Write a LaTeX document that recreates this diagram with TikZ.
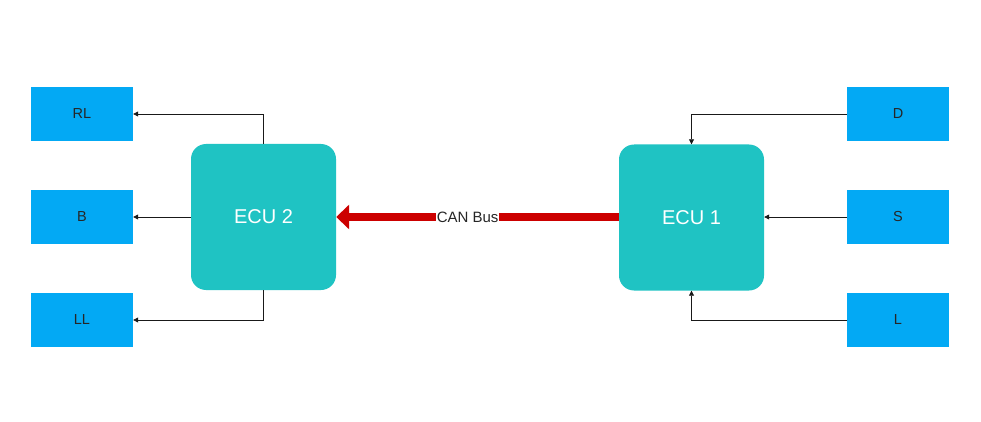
\documentclass[tikz,border=0pt]{standalone}
\usepackage{fontspec}
\setmainfont{Liberation Sans}
\usetikzlibrary{arrows.meta}
\definecolor{ecuteal}{HTML}{1FC3C3}
\definecolor{boxblue}{HTML}{03A9F4}
\definecolor{canred}{HTML}{CC0000}
\begin{document}
\begin{tikzpicture}[x=1pt,y=-1pt,
  iobox/.style={fill=boxblue,draw=none,minimum width=102pt,minimum height=54pt,inner sep=0pt,font=\fontsize{14.5}{17}\selectfont,text=black!85},
  ecubox/.style={fill=ecuteal,draw=none,rounded corners=15pt,minimum width=145pt,minimum height=146pt,inner sep=0pt,font=\fontsize{20}{24}\selectfont,text=white},
  sig/.style={draw=black!90,line width=0.8pt,-{Triangle[width=5pt,length=5pt]}},
  canbus/.style={draw=canred,line width=7.5pt,-{Triangle[width=24pt,length=13pt]}}]
\useasboundingbox (0,0) rectangle (981,422);
\node[iobox] (RL) at (82,114) {RL};
\node[iobox] (B) at (82,217) {B};
\node[iobox] (LL) at (82,320) {LL};
\node[iobox] (D) at (898,114) {D};
\node[iobox] (S) at (898,217) {S};
\node[iobox] (L) at (898,320) {L};
\node[ecubox] (E2) at (263.5,217) {ECU 2};
\node[ecubox] (E1) at (691.5,217.5) {ECU 1};
\draw[sig] (E2.north) |- (RL.east);
\draw[sig] (E2.west) -- (B.east);
\draw[sig] (E2.south) |- (LL.east);
\draw[sig] (D.west) -| (E1.north);
\draw[sig] (S.west) -- (E1.east |- S.west);
\draw[sig] (L.west) -| (E1.south);
\draw[canbus] (E1.west |- B.east) -- (E2.east |- B.east)
  node[pos=0.535,fill=white,inner xsep=0.5pt,inner ysep=1pt,text=black!85,font=\fontsize{15}{18}\selectfont] (can) {CAN Bus};
\end{tikzpicture}
\end{document}
